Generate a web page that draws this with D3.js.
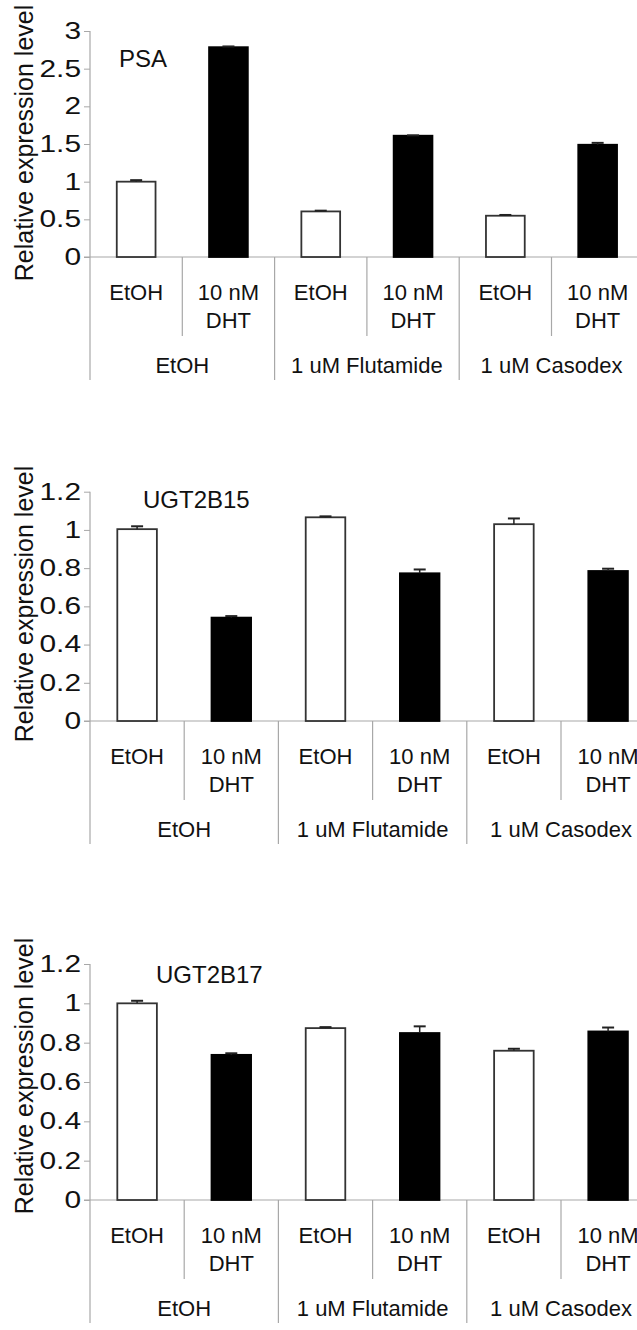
<!DOCTYPE html>
<html>
<head>
<meta charset="utf-8">
<script src="https://cdn.jsdelivr.net/npm/d3@7"></script>
<style>
  body { margin: 0; background: #fff; }
  text { font-family: "Liberation Sans", Arial, sans-serif; fill: #111; }
</style>
</head>
<body>
<svg id="chart" width="637" height="1330"></svg>
<script>
var treatments = [["EtOH"], ["10 nM", "DHT"], ["EtOH"], ["10 nM", "DHT"], ["EtOH"], ["10 nM", "DHT"]];
var groups = ["EtOH", "1 uM Flutamide", "1 uM Casodex"];

var psaValues = [1.0, 2.785, 0.605, 1.61, 0.548, 1.49];
var psaErrors = [0.02, 0.01, 0.01, 0.005, 0.01, 0.025];
var psaTicks = [0, 0.5, 1, 1.5, 2, 2.5, 3];

var ugt15Values = [1.004, 0.541, 1.066, 0.773, 1.03, 0.785];
var ugt15Errors = [0.015, 0.008, 0.005, 0.02, 0.03, 0.012];
var ugt17Values = [1.0, 0.738, 0.874, 0.849, 0.759, 0.857];
var ugt17Errors = [0.013, 0.008, 0.005, 0.034, 0.01, 0.02];
var ugtTicks = [0, 0.2, 0.4, 0.6, 0.8, 1, 1.2];

var axisColor = "#a8a8a8";
var tickStretch = 1.3; // tick numbers in the figure are drawn wide

var panels = [
  {gene: "PSA", values: psaValues, errors: psaErrors, ticks: psaTicks, max: 3,
   top: 31, bottom: 257, step: 92.3, labelX: 119, labelY: 66.5, titleY: 143},
  {gene: "UGT2B15", values: ugt15Values, errors: ugt15Errors, ticks: ugtTicks, max: 1.2,
   top: 491.7, bottom: 721, step: 94.2, labelX: 143, labelY: 508, titleY: 604},
  {gene: "UGT2B17", values: ugt17Values, errors: ugt17Errors, ticks: ugtTicks, max: 1.2,
   top: 964, bottom: 1200, step: 94.2, labelX: 156, labelY: 983, titleY: 1076}
];

var svg = d3.select("#chart");
var x0 = 90;

panels.forEach(function(p) {
  var g = svg.append("g");

  var x = d3.scaleBand()
    .domain(d3.range(treatments.length))
    .range([x0, x0 + p.step * treatments.length])
    .paddingInner(0.58)
    .paddingOuter(0.29);

  var y = d3.scaleLinear()
    .domain([0, p.max])
    .range([p.bottom, p.top]);

  // y axis
  var yAxis = g.append("g")
    .attr("transform", "translate(" + x0 + ",0)")
    .call(d3.axisLeft(y).tickValues(p.ticks).tickSize(6).tickPadding(2)
      .tickFormat(function(d) { return String(d); }));
  yAxis.select(".domain").remove();
  yAxis.selectAll("line").attr("stroke", axisColor);
  yAxis.selectAll("text")
    .style("font-size", "23px")
    .attr("fill", "#111")
    .attr("x", -9 / tickStretch)
    .attr("transform", "scale(" + tickStretch + ",1)");

  // vertical axis line, continuing down past the category rows
  g.append("line")
    .attr("x1", x0).attr("x2", x0)
    .attr("y1", p.top).attr("y2", p.bottom + 123)
    .attr("stroke", axisColor).attr("stroke-width", 1.2);

  // horizontal baseline
  g.append("line")
    .attr("x1", x0 - 6).attr("x2", 637)
    .attr("y1", y(0)).attr("y2", y(0))
    .attr("stroke", axisColor).attr("stroke-width", 1.2);

  // separators between treatment columns and groups
  d3.range(1, treatments.length + 1).forEach(function(i) {
    var sx = x0 + p.step * i;
    var outer = i % 2 === 0;
    g.append("line")
      .attr("x1", sx).attr("x2", sx)
      .attr("y1", y(0)).attr("y2", y(0) + (outer ? 123 : 79))
      .attr("stroke", axisColor).attr("stroke-width", 1.2);
  });

  // bars
  g.selectAll("rect.bar")
    .data(p.values)
    .enter().append("rect")
      .attr("class", "bar")
      .attr("x", function(d, i) { return x(i); })
      .attr("y", function(d) { return y(d); })
      .attr("width", x.bandwidth())
      .attr("height", function(d) { return y(0) - y(d); })
      .attr("fill", function(d, i) { return i % 2 === 0 ? "#fff" : "#000"; })
      .attr("stroke", function(d, i) { return i % 2 === 0 ? "#333" : "#000"; })
      .attr("stroke-width", 1.8);

  // error bars
  var err = g.selectAll("g.err")
    .data(p.values)
    .enter().append("g")
      .attr("class", "err");
  err.append("line")
    .attr("x1", function(d, i) { return x(i) + x.bandwidth() / 2; })
    .attr("x2", function(d, i) { return x(i) + x.bandwidth() / 2; })
    .attr("y1", function(d) { return y(d); })
    .attr("y2", function(d, i) { return y(d + p.errors[i]); })
    .attr("stroke", "#222").attr("stroke-width", 1.5);
  err.append("line")
    .attr("x1", function(d, i) { return x(i) + x.bandwidth() / 2 - 6; })
    .attr("x2", function(d, i) { return x(i) + x.bandwidth() / 2 + 6; })
    .attr("y1", function(d, i) { return y(d + p.errors[i]); })
    .attr("y2", function(d, i) { return y(d + p.errors[i]); })
    .attr("stroke", "#222").attr("stroke-width", 2);

  // treatment labels
  g.selectAll("text.treat")
    .data(treatments)
    .enter().append("text")
      .attr("class", "treat")
      .attr("text-anchor", "middle")
      .style("font-size", "22px")
      .each(function(lines, i) {
        var t = d3.select(this);
        lines.forEach(function(s, j) {
          t.append("tspan")
            .attr("x", x(i) + x.bandwidth() / 2)
            .attr("y", y(0) + 43 + j * 28)
            .text(s);
        });
      });

  // group labels
  g.selectAll("text.group")
    .data(groups)
    .enter().append("text")
      .attr("class", "group")
      .attr("text-anchor", "middle")
      .style("font-size", "22px")
      .attr("x", function(d, i) { return x0 + p.step * (2 * i + 1); })
      .attr("y", y(0) + 116)
      .text(function(d) { return d; });

  // gene name
  g.append("text")
    .attr("x", p.labelX)
    .attr("y", p.labelY)
    .style("font-size", "24px")
    .text(p.gene);

  // y title
  g.append("text")
    .attr("transform", "translate(33," + p.titleY + ") rotate(-90)")
    .attr("text-anchor", "middle")
    .style("font-size", "25px")
    .text("Relative expression level");
});
</script>
</body>
</html>
